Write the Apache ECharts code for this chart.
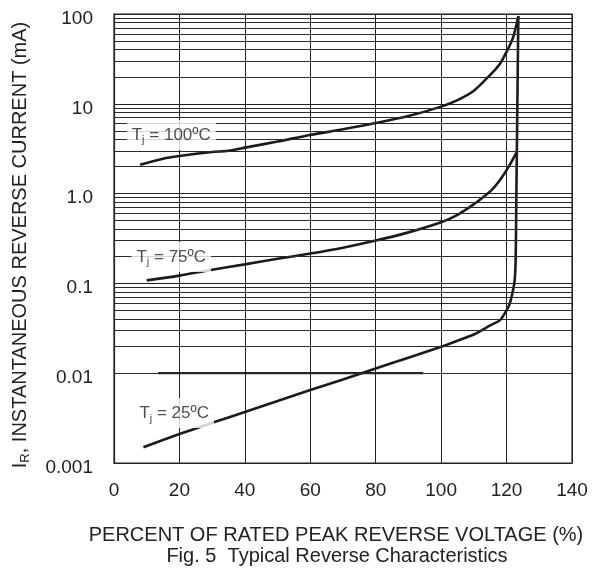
<!DOCTYPE html>
<html>
<head>
<meta charset="utf-8">
<script src="https://cdn.jsdelivr.net/npm/echarts@6/dist/echarts.min.js"></script>
<style>html,body{margin:0;padding:0;background:#fff;}#c{width:593px;height:569px;}</style>
</head>
<body>
<div id="c"></div>
<script>
// Data
var x100 = [8, 15, 20, 30, 35, 40, 50, 60, 70, 80, 90, 100, 105, 110, 115, 118, 120, 122, 123.6];
var y100 = [2.1, 2.45, 2.62, 2.9, 3.0, 3.25, 3.8, 4.5, 5.2, 6.1, 7.3, 9.3, 11, 14, 21, 28, 38, 55, 95];

var x75 = [10, 20, 30, 40, 50, 60, 70, 80, 90, 100, 105, 110, 113, 116, 119, 121, 123.1];
var y75 = [0.108, 0.122, 0.142, 0.163, 0.188, 0.215, 0.25, 0.30, 0.37, 0.48, 0.58, 0.76, 0.92, 1.15, 1.6, 2.1, 2.9];

var x25 = [9, 20, 30, 40, 50, 60, 70, 80, 90, 100, 105, 110, 115, 118, 120, 121, 122, 122.5, 122.8, 123, 123.3, 123.6];
var y25 = [0.0015, 0.0021, 0.0028, 0.0037, 0.0049, 0.0065, 0.0085, 0.0113, 0.0149, 0.0197, 0.023, 0.027, 0.034, 0.039, 0.05, 0.06, 0.085, 0.11, 0.2, 1, 10, 95];

var extraSegX = [13.5, 94.5];
var extraSegY = [0.01, 0.01];

var curveLabels = ['T{s|j} = 100\u00baC', 'T{s|j} = 75\u00baC', 'T{s|j} = 25\u00baC'];
var labelPos = [[17.5, 4.5], [17.5, 0.197], [18.4, 0.0036]];

var yTickLabels = ['0.001', '0.01', '0.1', '1.0', '10', '100'];
var minorGridValues = [];
[0.001, 0.01, 0.1, 1, 10].forEach(function (d) {
  [2, 3, 4, 5, 6, 7, 8, 9].forEach(function (m) { minorGridValues.push(+(d * m).toPrecision(3)); });
});

function zip(xs, ys) { return xs.map(function (x, i) { return [x, ys[i]]; }); }

var FONT = 'Liberation Sans, Arial, sans-serif';
var chart = echarts.init(document.getElementById('c'), null, { renderer: 'canvas' });

var curveStyle = { color: '#1e1a1a', width: 2.6 };

chart.setOption({
  animation: false,
  backgroundColor: '#fff',
  grid: { left: 114, right: 21, top: 14, bottom: 106, show: true, borderColor: '#222', borderWidth: 1.2, backgroundColor: 'transparent' },
  xAxis: {
    type: 'value', min: 0, max: 140, interval: 20,
    axisLine: { show: true, lineStyle: { color: '#222', width: 1.2 } },
    axisTick: { show: false },
    splitLine: { show: true, lineStyle: { color: '#222', width: 1 } },
    axisLabel: { fontFamily: FONT, fontSize: 19, color: '#222', margin: 18 }
  },
  yAxis: {
    type: 'log', logBase: 10, min: 0.001, max: 100,
    axisLine: { show: true, lineStyle: { color: '#222', width: 1.2 } },
    axisTick: { show: false },
    splitLine: { show: true, lineStyle: { color: '#222', width: 1.2 } },
    axisLabel: {
      fontFamily: FONT, fontSize: 19, color: '#222', margin: 21,
      formatter: function (v) {
        var i = Math.round(Math.log10(v)) + 3;
        return yTickLabels[i] !== undefined ? '{a|' + yTickLabels[i] + '}' : '';
      },
      rich: { a: { fontFamily: FONT, fontSize: 19, color: '#222', padding: [9, 0, 0, 0] } }
    }
  },
  graphic: [
    {
      type: 'text', x: 20, y: 245, rotation: Math.PI / 2,
      style: {
        text: '{a|I}{s|R}{a|, INSTANTANEOUS REVERSE CURRENT (mA)}',
        align: 'center', verticalAlign: 'middle', fill: '#222',
        rich: {
          a: { fontFamily: FONT, fontSize: 20, lineHeight: 24, fill: '#222' },
          s: { fontFamily: FONT, fontSize: 13, lineHeight: 24, verticalAlign: 'bottom', fill: '#222' }
        }
      }
    },
    {
      type: 'text', x: 336, y: 535,
      style: { text: 'PERCENT OF RATED PEAK REVERSE VOLTAGE (%)', font: '20px ' + FONT, fill: '#222', align: 'center', verticalAlign: 'middle' }
    },
    {
      type: 'text', x: 337, y: 556,
      style: { text: 'Fig. 5  Typical Reverse Characteristics', font: '20px ' + FONT, fill: '#222', align: 'center', verticalAlign: 'middle' }
    }
  ],
  series: [
    {
      type: 'line', data: [], z: 1, silent: true,
      markLine: {
        silent: true, symbol: ['none', 'none'], label: { show: false },
        lineStyle: { color: '#2a2a2a', width: 1.1, type: 'solid' },
        data: minorGridValues.map(function (v) { return { yAxis: v }; })
      }
    },
    {
      type: 'line', data: zip(extraSegX, extraSegY), z: 2, symbol: 'none', silent: true,
      lineStyle: { color: '#222', width: 2.2 }
    },
    { type: 'line', data: zip(x100, y100), z: 3, symbol: 'none', smooth: 0.3, lineStyle: curveStyle },
    { type: 'line', data: zip(x75, y75), z: 3, symbol: 'none', smooth: 0.3, lineStyle: curveStyle },
    { type: 'line', data: zip(x25, y25), z: 3, symbol: 'none', smooth: 0.2, lineStyle: curveStyle },
    {
      type: 'scatter', z: 10, symbolSize: 1, itemStyle: { color: 'rgba(0,0,0,0)' }, silent: true,
      data: labelPos.map(function (p, i) { return { value: p, name: curveLabels[i] }; }),
      label: {
        show: true, position: 'inside', backgroundColor: '#fff', padding: [4, 5],
        formatter: function (p) { return p.name; },
        fontFamily: FONT, fontSize: 17, color: '#222',
        rich: { s: { fontFamily: FONT, fontSize: 11, verticalAlign: 'bottom', lineHeight: 22, color: '#222' } }
      }
    }
  ]
});
</script>
</body>
</html>
